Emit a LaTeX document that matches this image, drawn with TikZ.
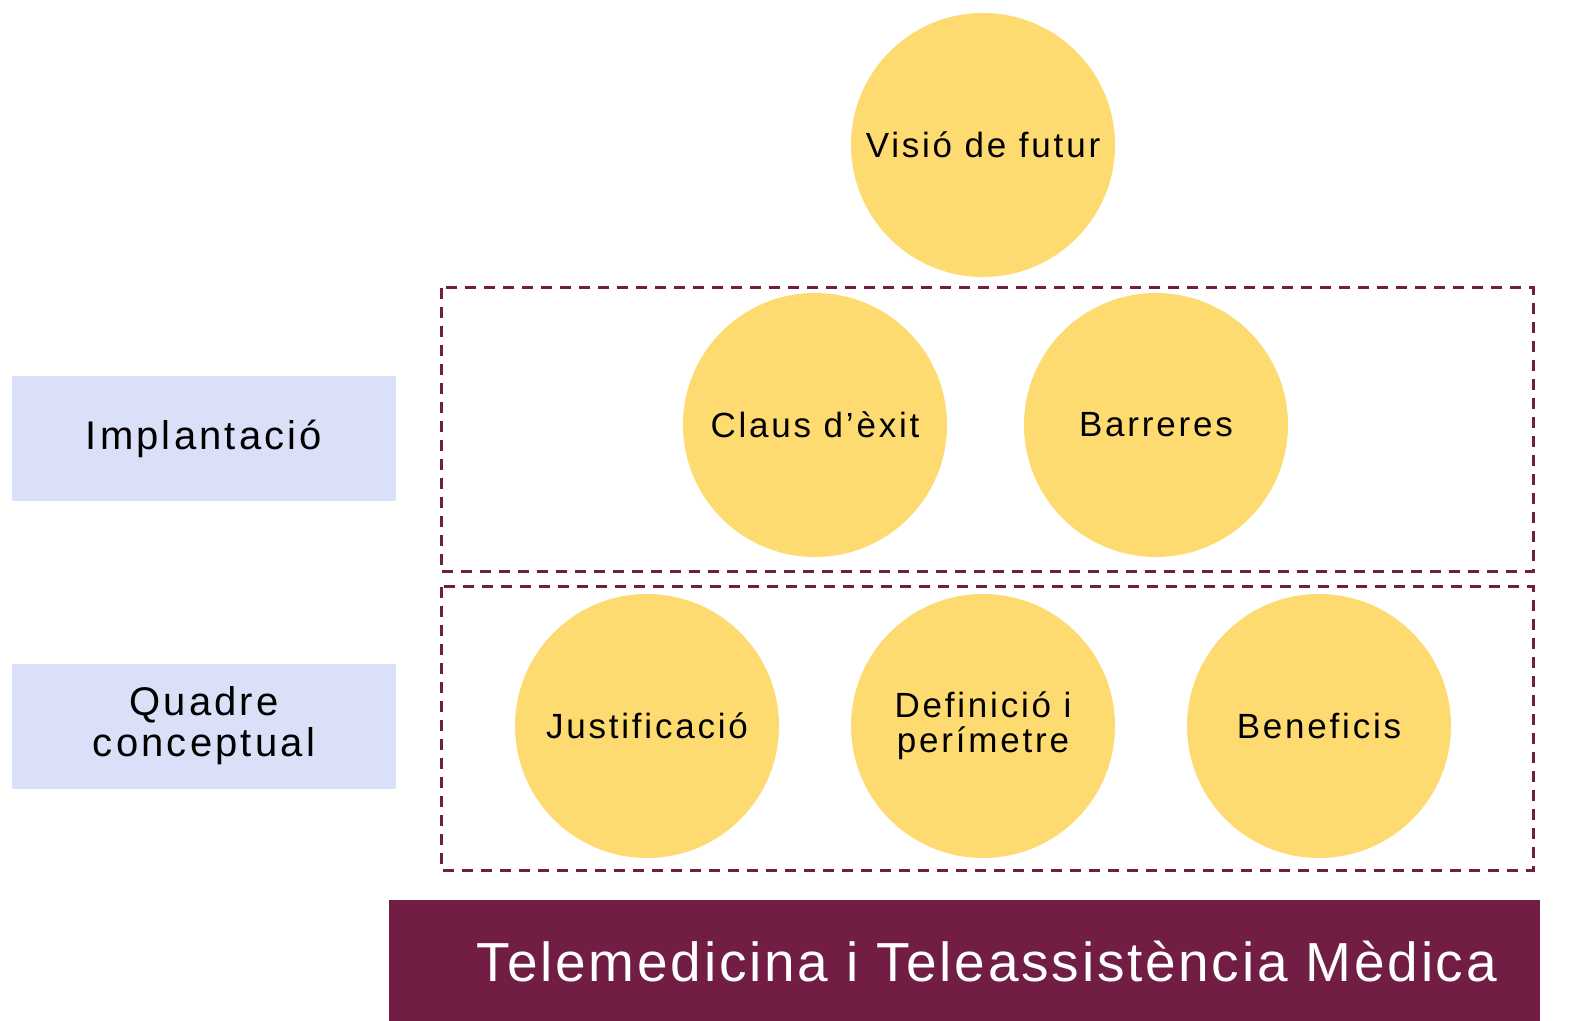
\documentclass[tikz,border=0pt]{standalone}
\usepackage{fontspec}
\setmainfont{Liberation Sans}[LetterSpace=8]
\newfontfamily\barfont{Liberation Sans}[LetterSpace=5]
\definecolor{yel}{HTML}{FEDB71}
\definecolor{mar}{HTML}{721E44}
\definecolor{lav}{HTML}{DAE0F8}
\begin{document}
\begin{tikzpicture}[x=0.5pt,y=-0.5pt,
  bub/.style={circle,fill=yel,minimum size=132pt,inner sep=0pt,align=center,font=\fontsize{17.5}{17.5}\selectfont},
  side/.style={fill=lav,minimum width=192pt,minimum height=62.5pt,inner sep=0pt,align=center,font=\fontsize{20}{20.5}\selectfont},
  grp/.style={draw=mar,line width=1.5pt,dash pattern=on 5.5pt off 4pt}]
\useasboundingbox (0,0) rectangle (1570,1021);
\node[bub] (v) at (983,145) {Visió de futur};
\draw[grp] (441,288) rectangle (1533,572);
\draw[grp] (441,587) rectangle (1533,870);
\node[bub] (c) at (815,425) {Claus d’èxit};
\node[bub] (b) at (1156,425) {Barreres};
\node[bub] (j) at (647,726) {Justificació};
\node[bub] (d) at (983,726) {Definició i\\perímetre};
\node[bub] (bn) at (1319,726) {Beneficis};
\node[side] (im) at (204,438.5) {Implantació};
\node[side] (q) at (204,726) {Quadre\\conceptual};
\fill[mar] (389,900) rectangle (1540,1021);
\node[text=white,font=\barfont\fontsize{27.5}{30}\selectfont] (t) at (987,962) {Telemedicina i Teleassistència Mèdica};
\end{tikzpicture}
\end{document}
